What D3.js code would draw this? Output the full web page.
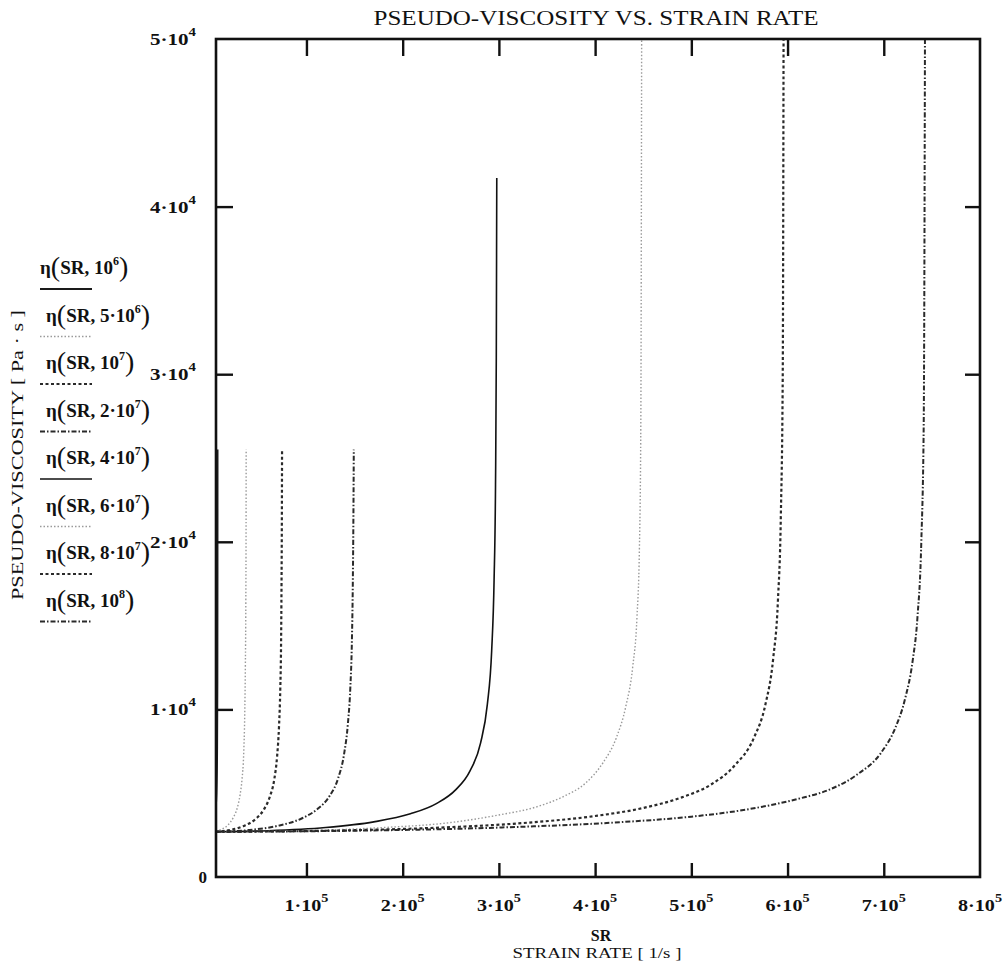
<!DOCTYPE html>
<html>
<head>
<meta charset="utf-8">
<script src="https://cdn.jsdelivr.net/npm/d3@7"></script>
<style>
    body { margin: 0; background: #fff; }
    svg { display: block; }
    text { font-family: "Liberation Serif", "Times New Roman", serif; fill: #111; }
</style>
</head>
<body>
<svg id="chart" width="1005" height="964"></svg>
<script>
// tick values and labels
const xTicks = [1e5, 2e5, 3e5, 4e5, 5e5, 6e5, 7e5, 8e5];
const xTickMant = ['1', '2', '3', '4', '5', '6', '7', '8'];
const yTicks = [0, 1e4, 2e4, 3e4, 4e4, 5e4];
const yTickMant = ['0', '1', '2', '3', '4', '5'];

// legend: pressure mantissa / exponent
const pMant = ['', '5·', '', '2·', '4·', '6·', '8·', ''];
const pExp = ['6', '6', '7', '7', '7', '7', '7', '8'];

// curves: strain rate [1/s] and pseudo-viscosity [Pa s]
const sr_1e6 = [6000, 6500, 7000, 7300, 7420, 7460];
const eta_1e6 = [4500, 5400, 7500, 11700, 18500, 25500];

const sr_5e6 = [6000, 12000, 18000, 24000, 28000, 31000, 33000, 34800, 35800, 36500, 37000, 37250, 37350];
const eta_5e6 = [2730, 2850, 3080, 3550, 4100, 4900, 5800, 7400, 9500, 12500, 16500, 21000, 25500];

const sr_1e7 = [6000, 20000, 35000, 48000, 56000, 62000, 66500, 69500, 71500, 72800, 73600, 74100, 74450, 74650];
const eta_1e7 = [2700, 2800, 3050, 3500, 4050, 4800, 5800, 7200, 9000, 11200, 13800, 17500, 21500, 25500];

const sr_2e7 = [6000, 40000, 70000, 96000, 112000, 124000, 133000, 139000, 143000, 145600, 147200, 148200, 148800, 149200];
const eta_2e7 = [2700, 2800, 3050, 3520, 4080, 4830, 5900, 7300, 9100, 11300, 14000, 17600, 21500, 25500];

const sr_4e7 = [6000, 60000, 120000, 170000, 208000, 235000, 255000, 270000, 281000, 288000, 292500, 295000, 296500, 297300, 297800];
const eta_4e7 = [2700, 2760, 2950, 3290, 3770, 4380, 5200, 6330, 8000, 10300, 13500, 17700, 23400, 31000, 41700];

const sr_6e7 = [6000, 100000, 180000, 250000, 300000, 340000, 367000, 390000, 408000, 422000, 432000, 439000, 443500, 446000, 447500, 448500];
const eta_6e7 = [2700, 2770, 2950, 3250, 3700, 4200, 4800, 5600, 6800, 8300, 10200, 12500, 15500, 19500, 27000, 55000];

const sr_8e7 = [6000, 130000, 240000, 330000, 400000, 450000, 490000, 520000, 545000, 565000, 577000, 585000, 590000, 593000, 595000, 596000];
const eta_8e7 = [2700, 2770, 2950, 3240, 3640, 4120, 4750, 5500, 6650, 8300, 10300, 13000, 16500, 21500, 30000, 55000];

const sr_1e8 = [6000, 160000, 300000, 420000, 500000, 560000, 610000, 645000, 672000, 697000, 712000, 722000, 730000, 735000, 739000, 741500, 743000];
const eta_1e8 = [2700, 2770, 2950, 3250, 3600, 4050, 4650, 5250, 6100, 7400, 8900, 10600, 12900, 15500, 20000, 27000, 55000];

const srSeries = [sr_1e6, sr_5e6, sr_1e7, sr_2e7, sr_4e7, sr_6e7, sr_8e7, sr_1e8];
const etaSeries = [eta_1e6, eta_5e6, eta_1e7, eta_2e7, eta_4e7, eta_6e7, eta_8e7, eta_1e8];

// trace styles (Mathcad style cycle, grey scan)
const traceStyle = [
    { stroke: '#1a1a1a', width: 2.2, dash: null },
    { stroke: '#9a9a9a', width: 1.4, dash: '1.5,2' },
    { stroke: '#2a2a2a', width: 2.2, dash: '3,2.5' },
    { stroke: '#2a2a2a', width: 2.0, dash: '5,2,1.5,2' },
    { stroke: '#111', width: 1.6, dash: null },
    { stroke: '#9a9a9a', width: 1.4, dash: '1.5,2' },
    { stroke: '#2a2a2a', width: 2.2, dash: '3,2.5' },
    { stroke: '#2a2a2a', width: 2.0, dash: '5,2,1.5,2' }
];

let svg = d3.select('#chart'),
    plotLeft = 216, plotRight = 980, plotTop = 39, plotBottom = 877;

let x = d3.scaleLinear().domain([6000, 8e5]).range([plotLeft, plotRight]);
let y = d3.scaleLinear().domain([0, 5e4]).range([plotBottom, plotTop]);

// clip for traces
svg.append('defs').append('clipPath')
    .attr('id', 'plotclip')
    .append('rect')
    .attr('x', plotLeft).attr('y', plotTop)
    .attr('width', plotRight - plotLeft).attr('height', plotBottom - plotTop);

// traces
let line = d3.line()
    .x(d => x(d[0]))
    .y(d => y(d[1]))
    .curve(d3.curveMonotoneX);

let traces = svg.append('g').attr('clip-path', 'url(#plotclip)');
srSeries.forEach(function(sr, i) {
    let pts = sr.map((s, k) => [s, etaSeries[i][k]]);
    traces.append('path')
        .attr('d', line(pts))
        .attr('fill', 'none')
        .attr('stroke', traceStyle[i].stroke)
        .attr('stroke-width', traceStyle[i].width)
        .attr('stroke-dasharray', traceStyle[i].dash);
});

// inner ticks on all four sides
function cleanAxis(g) {
    g.select('.domain').remove();
    g.selectAll('.tick line').attr('stroke', '#111').attr('stroke-width', 2.4);
    g.selectAll('.tick text').remove();
}
let innerX = xTicks.slice(0, 7);
let innerY = yTicks.slice(1, 5);

svg.append('g').attr('transform', 'translate(0,' + plotBottom + ')')
    .call(d3.axisBottom(x).tickValues(innerX).tickSize(-14)).call(cleanAxis);
svg.append('g').attr('transform', 'translate(0,' + plotTop + ')')
    .call(d3.axisTop(x).tickValues(innerX).tickSize(-17)).call(cleanAxis);
svg.append('g').attr('transform', 'translate(' + plotLeft + ',0)')
    .call(d3.axisLeft(y).tickValues(innerY).tickSize(-17)).call(cleanAxis);
svg.append('g').attr('transform', 'translate(' + plotRight + ',0)')
    .call(d3.axisRight(y).tickValues(innerY).tickSize(-15)).call(cleanAxis);

// frame
svg.append('rect')
    .attr('x', plotLeft).attr('y', plotTop)
    .attr('width', plotRight - plotLeft).attr('height', plotBottom - plotTop)
    .attr('fill', 'none')
    .attr('stroke', '#111')
    .attr('stroke-width', 2.6);

// x tick labels
let xl = svg.append('g').selectAll('text')
    .data(xTicks)
    .enter()
    .append('text')
    .attr('x', d => x(d))
    .attr('y', 911)
    .attr('text-anchor', 'middle')
    .attr('font-size', 17)
    .attr('font-weight', 'bold')
    .attr('textLength', 44)
    .attr('lengthAdjust', 'spacingAndGlyphs');
xl.append('tspan').text((d, i) => xTickMant[i] + '·10');
xl.append('tspan').attr('dy', -9).attr('font-size', 12).text('5');

// y tick labels
let yl = svg.append('g').selectAll('text')
    .data(yTicks)
    .enter()
    .append('text')
    .attr('x', d => d === 0 ? 207 : 196)
    .attr('y', d => y(d) + 6)
    .attr('text-anchor', 'end')
    .attr('font-size', 17)
    .attr('font-weight', 'bold');
yl.filter(d => d !== 0)
    .attr('textLength', 46)
    .attr('lengthAdjust', 'spacingAndGlyphs');
yl.append('tspan').text((d, i) => d === 0 ? '0' : yTickMant[i] + '·10');
yl.filter(d => d !== 0).append('tspan').attr('dy', -9).attr('font-size', 12).text('4');

// title and axis titles
svg.append('text')
    .attr('x', 596).attr('y', 25)
    .attr('text-anchor', 'middle')
    .attr('font-size', 20)
    .attr('textLength', 445)
    .attr('lengthAdjust', 'spacingAndGlyphs')
    .text('PSEUDO-VISCOSITY VS. STRAIN RATE');

svg.append('text')
    .attr('x', 601).attr('y', 941)
    .attr('text-anchor', 'middle')
    .attr('font-size', 16)
    .attr('font-weight', 'bold')
    .text('SR');

svg.append('text')
    .attr('x', 597).attr('y', 958)
    .attr('text-anchor', 'middle')
    .attr('font-size', 15)
    .attr('textLength', 169)
    .attr('lengthAdjust', 'spacingAndGlyphs')
    .text('STRAIN RATE [ 1/s ]');

svg.append('text')
    .attr('transform', 'translate(23,455) rotate(-90)')
    .attr('text-anchor', 'middle')
    .attr('font-size', 16)
    .attr('textLength', 290)
    .attr('lengthAdjust', 'spacingAndGlyphs')
    .text('PSEUDO-VISCOSITY [ Pa · s ]');

// legend (trace names stacked on the y axis, each with its line sample)
let legend = svg.append('g').selectAll('g')
    .data(pExp)
    .enter()
    .append('g')
    .attr('transform', (d, i) => 'translate(0,' + (267 + 47.5 * i) + ')');

let lt = legend.append('text')
    .attr('x', (d, i) => i === 0 ? 40 : 46)
    .attr('y', 7)
    .attr('font-size', 19)
    .attr('font-weight', 'bold');
lt.append('tspan').text('η');
lt.append('tspan').attr('font-size', 28).attr('dy', 2).attr('font-weight', 'normal').text('(');
lt.append('tspan').attr('dy', -2).text((d, i) => 'SR, ' + pMant[i] + '10');
lt.append('tspan').attr('dy', -9).attr('font-size', 12).text(d => d);
lt.append('tspan').attr('dy', 11).attr('font-size', 28).attr('font-weight', 'normal').text(')');

legend.append('line')
    .attr('x1', 40).attr('x2', 92)
    .attr('y1', 22).attr('y2', 22)
    .attr('stroke', (d, i) => traceStyle[i].stroke)
    .attr('stroke-width', (d, i) => traceStyle[i].width)
    .attr('stroke-dasharray', (d, i) => traceStyle[i].dash);
</script>
</body>
</html>
